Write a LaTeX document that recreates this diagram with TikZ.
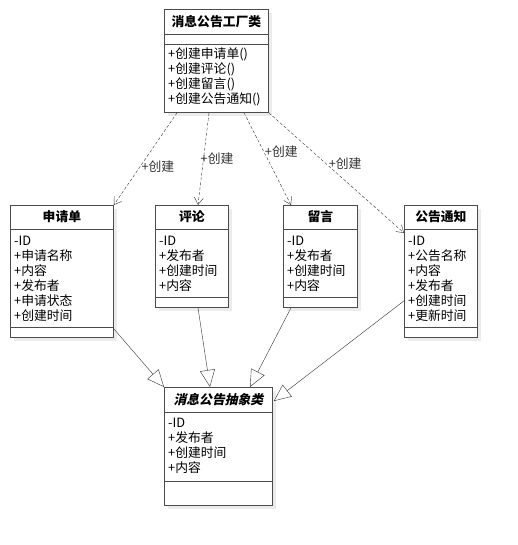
\documentclass[tikz,border=0pt]{standalone}
\usepackage{fontspec}
\setmainfont{Noto Sans CJK SC}
\newfontfamily\slfont{Noto Sans CJK SC}[FakeSlant=0.22, BoldFeatures={FakeSlant=0.22}]
\usetikzlibrary{arrows.meta,calc,shadows}

\begin{document}
\begin{tikzpicture}[x=1pt, y=-1pt,
  font=\fontsize{12.8}{15}\selectfont,
  cls/.style={draw=black!70, line width=0.8pt, fill=white, anchor=north west,
    inner sep=0pt,
    drop shadow={shadow xshift=4pt, shadow yshift=-4pt, fill=black!8, opacity=1}},
  div/.style={draw=black!70, line width=0.8pt},
  clstitle/.style={inner sep=0pt, font=\fontsize{12.8}{15}\selectfont\bfseries},
  attrs/.style={anchor=north west, align=left, inner sep=0pt},
  create/.style={densely dashed, black!80, -{Straight Barb[length=7pt, width=9pt]}},
  extends/.style={black!80, -{Triangle[open, length=17pt, width=15pt, fill=white]}},
  lbl/.style={anchor=west, inner sep=1pt}]

  \useasboundingbox (0,0) rectangle (517,545);

  \newcommand\TDIV{24};

  % factory
  \node[cls, minimum width=104pt, minimum height=103pt] (fac) at (164,9) {};
  \draw[div] ($(fac.north west)+(0,25)$) -- ($(fac.north east)+(0,25)$);
  \draw[div] ($(fac.north west)+(0,35)$) -- ($(fac.north east)+(0,35)$);
  \node[clstitle] (fac-t) at ($(fac.north)+(0,13)$) {消息公告工厂类};
  \node[attrs] (fac-m) at ($(fac.north west)+(4,39)$)
    {+创建申请单()\\+创建评论()\\+创建留言()\\+创建公告通知()};

  % concrete classes
  \node[cls, minimum width=103pt, minimum height=132pt] (apply) at (10,205) {};
  \draw[div] ($(apply.north west)+(0,\TDIV)$) -- ($(apply.north east)+(0,\TDIV)$);
  \draw[div] ($(apply.north west)+(0,122)$) -- ($(apply.north east)+(0,122)$);
  \node[clstitle] (apply-t) at ($(apply.north)+(0,12)$) {申请单};
  \node[attrs] (apply-a) at ($(apply.north west)+(4,31)$)
    {-ID\\+申请名称\\+内容\\+发布者\\+申请状态\\+创建时间};

  \node[cls, minimum width=73pt, minimum height=102pt] (cmt) at (155,205) {};
  \draw[div] ($(cmt.north west)+(0,\TDIV)$) -- ($(cmt.north east)+(0,\TDIV)$);
  \draw[div] ($(cmt.north west)+(0,92)$) -- ($(cmt.north east)+(0,92)$);
  \node[clstitle] (cmt-t) at ($(cmt.north)+(0,12)$) {评论};
  \node[attrs] (cmt-a) at ($(cmt.north west)+(4,31)$)
    {-ID\\+发布者\\+创建时间\\+内容};

  \node[cls, minimum width=74pt, minimum height=102pt] (msg) at (283,205) {};
  \draw[div] ($(msg.north west)+(0,\TDIV)$) -- ($(msg.north east)+(0,\TDIV)$);
  \draw[div] ($(msg.north west)+(0,92)$) -- ($(msg.north east)+(0,92)$);
  \node[clstitle] (msg-t) at ($(msg.north)+(0,12)$) {留言};
  \node[attrs] (msg-a) at ($(msg.north west)+(4,31)$)
    {-ID\\+发布者\\+创建时间\\+内容};

  \node[cls, minimum width=73pt, minimum height=132pt] (notice) at (404,205) {};
  \draw[div] ($(notice.north west)+(0,\TDIV)$) -- ($(notice.north east)+(0,\TDIV)$);
  \draw[div] ($(notice.north west)+(0,122)$) -- ($(notice.north east)+(0,122)$);
  \node[clstitle] (notice-t) at ($(notice.north)+(0,12)$) {公告通知};
  \node[attrs] (notice-a) at ($(notice.north west)+(4,31)$)
    {-ID\\+公告名称\\+内容\\+发布者\\+创建时间\\+更新时间};

  % abstract class
  \node[cls, minimum width=108pt, minimum height=118pt] (abs) at (164,387) {};
  \draw[div] ($(abs.north west)+(0,25)$) -- ($(abs.north east)+(0,25)$);
  \draw[div] ($(abs.north west)+(0,94)$) -- ($(abs.north east)+(0,94)$);
  \node[clstitle, font=\fontsize{12.8}{15}\slfont\bfseries] (abs-t)
    at ($(abs.north)+(0,13)$) {消息公告抽象类};
  \node[attrs] (abs-a) at ($(abs.north west)+(4,31)$)
    {-ID\\+发布者\\+创建时间\\+内容};

  % create dependencies
  \draw[create] ($(fac.south west)+(13,0)$) -- node[lbl, pos=0.58] (l1) {+创建}
    (apply.north east);
  \draw[create] ($(fac.south west)+(45,0)$) -- node[lbl, pos=0.5, xshift=-4pt] (l2) {+创建}
    ($(cmt.north west)+(43,0)$);
  \draw[create] ($(fac.south west)+(80,0)$) -- node[lbl, pos=0.42] (l3) {+创建}
    ($(msg.north west)+(8,0)$);
  \draw[create] (fac.south east) -- node[lbl, pos=0.42, xshift=2pt] (l4) {+创建}
    ($(notice.north west)+(0,28)$);

  % generalisation
  \draw[extends] ($(apply.south east)+(0,-9)$) -- (abs.north west);
  \draw[extends] ($(cmt.south west)+(43,0)$) -- ($(abs.north west)+(46,0)$);
  \draw[extends] ($(msg.south west)+(8,0)$) -- ($(abs.north west)+(86,0)$);
  \draw[extends] ($(notice.south west)+(0,-37)$) -- ($(abs.north east)+(1,14)$);

\end{tikzpicture}
\end{document}
